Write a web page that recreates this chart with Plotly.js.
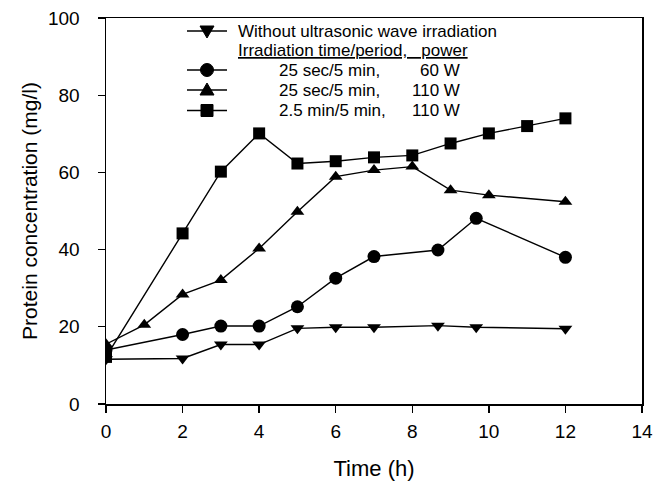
<!DOCTYPE html>
<html>
<head>
<meta charset="utf-8">
<script src="https://cdn.plot.ly/plotly-3.0.1.min.js"></script>
<style>html,body{margin:0;padding:0;background:#fff;}</style>
</head>
<body>
<div id="chart" style="width:665px;height:486px;"></div>
<script>
// Data
const tWithout = [0, 2, 3, 4, 5, 6, 7, 8.67, 9.67, 12];
const cWithout = [11.6, 11.8, 15.4, 15.4, 19.6, 19.9, 19.9, 20.3, 19.9, 19.5];

const t60W = [0, 2, 3, 4, 5, 6, 7, 8.67, 9.67, 12];
const c60W = [14, 18.0, 20.2, 20.2, 25.2, 32.6, 38.2, 39.9, 48.1, 38.0];

const t110W = [0, 1, 2, 3, 4, 5, 6, 7, 8, 9, 10, 12];
const c110W = [15.5, 20.5, 28.4, 32.1, 40.3, 49.8, 58.9, 60.6, 61.5, 55.4, 54.1, 52.4];

const t110Wlong = [0, 2, 3, 4, 5, 6, 7, 8, 9, 10, 11, 12];
const c110Wlong = [12.2, 44.2, 60.2, 70.1, 62.3, 62.9, 63.9, 64.4, 67.5, 70.1, 72.0, 74.0];

const xTicks = [0, 2, 4, 6, 8, 10, 12, 14];
const yTicks = [0, 20, 40, 60, 80, 100];

// Legend texts
const legendHeader = 'Without ultrasonic wave irradiation';
const legendSubHeader = 'Irradiation time/period,\u00A0\u00A0\u00A0power';
const legendPeriods = ['25 sec/5 min,', '25 sec/5 min,', '2.5 min/5 min,'];
const legendPowers = ['60 W', '110 W', '110 W'];
const legendSymbols = ['triangle-down', 'circle', 'triangle-up', 'square'];

const lineStyle = {color: '#000', width: 1.4};
const traces = [
  {x: tWithout, y: cWithout, mode: 'lines+markers', line: lineStyle,
   marker: {symbol: 'triangle-down', size: 12, color: '#000'}},
  {x: t60W, y: c60W, mode: 'lines+markers', line: lineStyle,
   marker: {symbol: 'circle', size: 13, color: '#000'}},
  {x: t110W, y: c110W, mode: 'lines+markers', line: lineStyle,
   marker: {symbol: 'triangle-up', size: 12, color: '#000'}},
  {x: t110Wlong, y: c110Wlong, mode: 'lines+markers', line: lineStyle,
   marker: {symbol: 'square', size: 12, color: '#000'}}
];

// plot area geometry (pixels)
const W = 665, H = 486;
const M = {l: 106, r: 23, t: 18, b: 82};
const pw = W - M.l - M.r, ph = H - M.t - M.b;
const px = x => (x - M.l) / pw;
const py = y => (H - M.b - y) / ph;

const fam = 'Liberation Sans, Arial, sans-serif';
const rows = [31, 50.5, 70, 90, 110.5];
const symX0 = 187, symX1 = 227, symC = 207;

const shapes = [];
const annotations = [];
const legFont = {size: 17, family: fam, color: '#000'};

function addSymbol(kind, rowY) {
  shapes.push({type: 'line', xref: 'paper', yref: 'paper', x0: px(symX0), x1: px(symX1),
               y0: py(rowY), y1: py(rowY), line: {color: '#000', width: 1.4}});
  const base = {xref: 'paper', yref: 'paper', xsizemode: 'pixel', ysizemode: 'pixel',
                xanchor: px(symC), yanchor: py(rowY), fillcolor: '#000', line: {color: '#000', width: 1}};
  if (kind === 'circle') {
    shapes.push(Object.assign({type: 'circle', x0: -6.5, x1: 6.5, y0: -6.5, y1: 6.5}, base));
  } else if (kind === 'square') {
    shapes.push(Object.assign({type: 'rect', x0: -6, x1: 6, y0: -6, y1: 6}, base));
  } else if (kind === 'triangle-up') {
    shapes.push(Object.assign({type: 'path', path: 'M-7,-5 L7,-5 L0,7 Z'}, base));
  } else {
    shapes.push(Object.assign({type: 'path', path: 'M-7,5 L7,5 L0,-7 Z'}, base));
  }
}

addSymbol(legendSymbols[0], rows[0]);
annotations.push({xref: 'paper', yref: 'paper', x: px(237), y: py(rows[0]), xanchor: 'left', yanchor: 'middle',
                  text: legendHeader, showarrow: false, font: legFont, borderpad: 0});
annotations.push({xref: 'paper', yref: 'paper', x: px(237), y: py(rows[1]), xanchor: 'left', yanchor: 'middle',
                  text: '<span style="text-decoration:underline">' + legendSubHeader + '</span>',
                  showarrow: false, font: legFont, borderpad: 0});
for (let i = 0; i < 3; i++) {
  addSymbol(legendSymbols[i + 1], rows[i + 2]);
  annotations.push({xref: 'paper', yref: 'paper', x: px(278), y: py(rows[i + 2]), xanchor: 'left', yanchor: 'middle',
                    text: legendPeriods[i], showarrow: false, font: legFont, borderpad: 0});
  annotations.push({xref: 'paper', yref: 'paper', x: px(461), y: py(rows[i + 2]), xanchor: 'right', yanchor: 'middle',
                    text: legendPowers[i], showarrow: false, font: legFont, borderpad: 0});
}

const layout = {
  width: W, height: H,
  margin: M,
  paper_bgcolor: '#fff', plot_bgcolor: '#fff',
  font: {family: fam, color: '#000'},
  showlegend: false,
  shapes: shapes,
  annotations: annotations,
  xaxis: {range: [0, 14], tickvals: xTicks, ticks: 'outside', ticklen: 7,
          tickwidth: 1.3, tickcolor: '#000', showline: true, linecolor: '#000', linewidth: 1.5,
          mirror: true, showgrid: false, zeroline: false, ticklabelstandoff: 3,
          tickfont: {size: 19, family: fam, color: '#000'},
          title: {text: 'Time (h)', font: {size: 22, family: fam, color: '#000'}, standoff: 19}},
  yaxis: {range: [0, 100], tickvals: yTicks, ticks: 'outside', ticklen: 7,
          tickwidth: 1.3, tickcolor: '#000', showline: true, linecolor: '#000', linewidth: 1.5,
          mirror: true, showgrid: false, zeroline: false, ticklabelstandoff: 14,
          tickfont: {size: 19, family: fam, color: '#000'},
          title: {text: 'Protein concentration (mg/l)', font: {size: 21, family: fam, color: '#000'}, standoff: 4}}
};

Plotly.newPlot('chart', traces, layout, {displayModeBar: false, staticPlot: true});
</script>
</body>
</html>
